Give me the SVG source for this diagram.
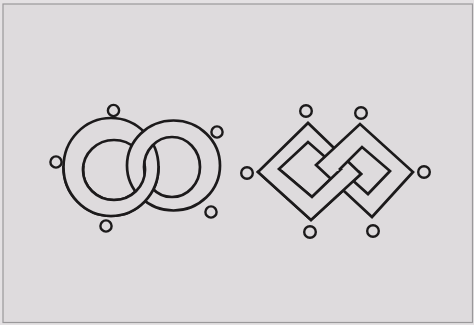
<svg xmlns="http://www.w3.org/2000/svg" xmlns:xlink="http://www.w3.org/1999/xlink" width="474" height="325" viewBox="0 0 474 325">
<style>
.band{fill:#dedbdd;stroke:#1c1a1b;stroke-width:2.7;fill-rule:evenodd;stroke-linejoin:miter}
.dot{fill:none;stroke:#1c1a1b;stroke-width:2.4}
</style>
<defs>
<path id="ringL" d="M63.5,167 a47.5,49 0 1,0 95,0 a47.5,49 0 1,0 -95,0 Z M83,170 a31,30 0 1,0 62,0 a31,30 0 1,0 -62,0 Z"/>
<path id="ringR" d="M127,165.5 a46.5,45 0 1,0 93,0 a46.5,45 0 1,0 -93,0 Z M144,167 a28,30 0 1,0 56,0 a28,30 0 1,0 -56,0 Z"/>
<path id="diaL" d="M258,172 L308,123 L361,174 L311,220 Z M279,169 L308,142 L340,170 L312,197 Z"/>
<path id="diaR" d="M316,165 L360,124 L413,172 L372,217 Z M340,169 L362,147 L390,171 L368,194 Z"/>
<clipPath id="lowRing"><rect x="0" y="166" width="474" height="159"/></clipPath>
<clipPath id="lowDia"><rect x="0" y="170" width="474" height="155"/></clipPath>
</defs>
<rect x="0" y="0" width="474" height="325" fill="#e4e1e3"/>
<rect x="3" y="4" width="469.5" height="318.5" fill="#dedbdd" stroke="#9a989a" stroke-width="1.2"/>
<g id="rings">
<use xlink:href="#ringL" class="band"/>
<use xlink:href="#ringR" class="band"/>
<use xlink:href="#ringL" class="band" clip-path="url(#lowRing)"/>
</g>
<g id="diamonds">
<use xlink:href="#diaL" class="band"/>
<use xlink:href="#diaR" class="band"/>
<use xlink:href="#diaL" class="band" clip-path="url(#lowDia)"/>
</g>
<g id="connectors"></g>
<g id="ring-dots">
<circle id="rd1" class="dot" cx="113.5" cy="110.5" r="5.6"/>
<circle id="rd2" class="dot" cx="56" cy="162" r="5.6"/>
<circle id="rd3" class="dot" cx="106" cy="226" r="5.6"/>
<circle id="rd4" class="dot" cx="217" cy="132" r="5.6"/>
<circle id="rd5" class="dot" cx="211" cy="212" r="5.6"/>
</g>
<g id="diamond-dots">
<circle id="dd1" class="dot" cx="306" cy="111" r="5.8"/>
<circle id="dd2" class="dot" cx="361" cy="113" r="5.8"/>
<circle id="dd3" class="dot" cx="247" cy="173" r="5.8"/>
<circle id="dd4" class="dot" cx="424" cy="172" r="5.8"/>
<circle id="dd5" class="dot" cx="310" cy="232" r="5.8"/>
<circle id="dd6" class="dot" cx="373" cy="231" r="5.8"/>
</g>
</svg>
